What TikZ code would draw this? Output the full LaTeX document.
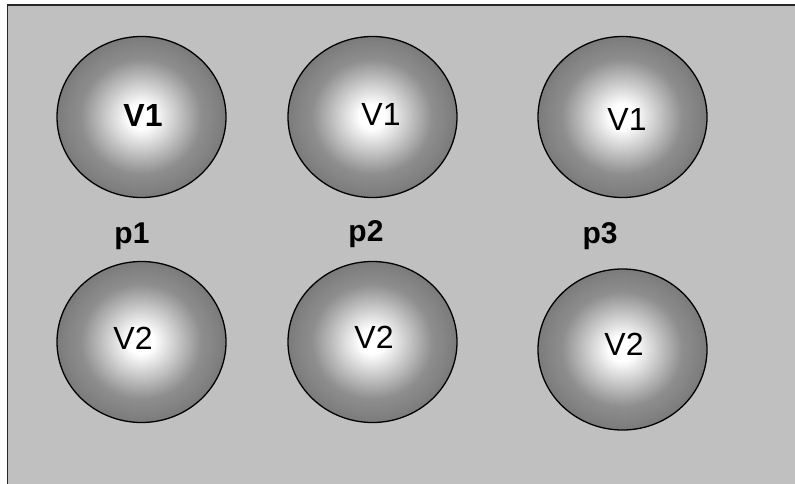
\documentclass[tikz,border=0pt]{standalone}
\usepackage{fontspec}
\setmainfont{Liberation Sans}
\usetikzlibrary{shapes.geometric}
\definecolor{bgA}{HTML}{C0C0C0}
\newcommand\myballshade[2]{%
 \foreach \i in {0,...,79}{%
   \pgfmathsetmacro\ff{1-\i/80}%
   \pgfmathsetmacro\gg{\ff<0.16 ? 1 : (\ff<0.72 ? 1-(\ff-0.16)/0.56*0.443 : 0.557-(\ff-0.72)/0.28*0.072)}%
   \definecolor{tmpc}{gray}{\gg}%
   \fill[tmpc] (#1,#2) ellipse [x radius=84.5*\ff, y radius=80.5*\ff];
 }}
\tikzset{
  ball/.style={ellipse, draw=black, line width=1.3pt, minimum width=169pt, minimum height=161pt, inner sep=0pt},
  vtext/.style={font=\fontsize{32}{38}\selectfont, inner sep=0pt},
  vbold/.style={font=\fontsize{32}{38}\selectfont\bfseries, inner sep=0pt},
  ptext/.style={font=\fontsize{30}{36}\selectfont\bfseries, inner sep=0pt}
}
\begin{document}
\begin{tikzpicture}[x=1pt,y=-1pt]
\useasboundingbox (0,0) rectangle (795,484);
\fill[white] (0,0) rectangle (795,484);
\draw[fill=bgA, draw=black!85, line width=1.5pt] (7.5,5) rectangle (810,500);
% shading
\myballshade{141.5}{117}
\myballshade{372.5}{117}
\myballshade{622.5}{117}
\myballshade{141.5}{342}
\myballshade{372.5}{342}
\myballshade{622.5}{349.5}
% balls
\node[ball] (b11) at (141.5,117) {};
\node[ball] (b21) at (372.5,117) {};
\node[ball] (b31) at (622.5,117) {};
\node[ball] (b12) at (141.5,342) {};
\node[ball] (b22) at (372.5,342) {};
\node[ball] (b32) at (622.5,349.5) {};
% texts
\node[vbold] (t11) at (143,115) {V1};
\node[vtext] (t21) at (381,114.5) {V1};
\node[vtext] (t31) at (627,119) {V1};
\node[vtext] (t12) at (133,338) {V2};
\node[vtext] (t22) at (374,337) {V2};
\node[vtext] (t32) at (624,344) {V2};
\node[ptext] (p1) at (132,236.5) {p1};
\node[ptext] (p2) at (366,234.5) {p2};
\node[ptext] (p3) at (600,236.5) {p3};
\end{tikzpicture}
\end{document}
